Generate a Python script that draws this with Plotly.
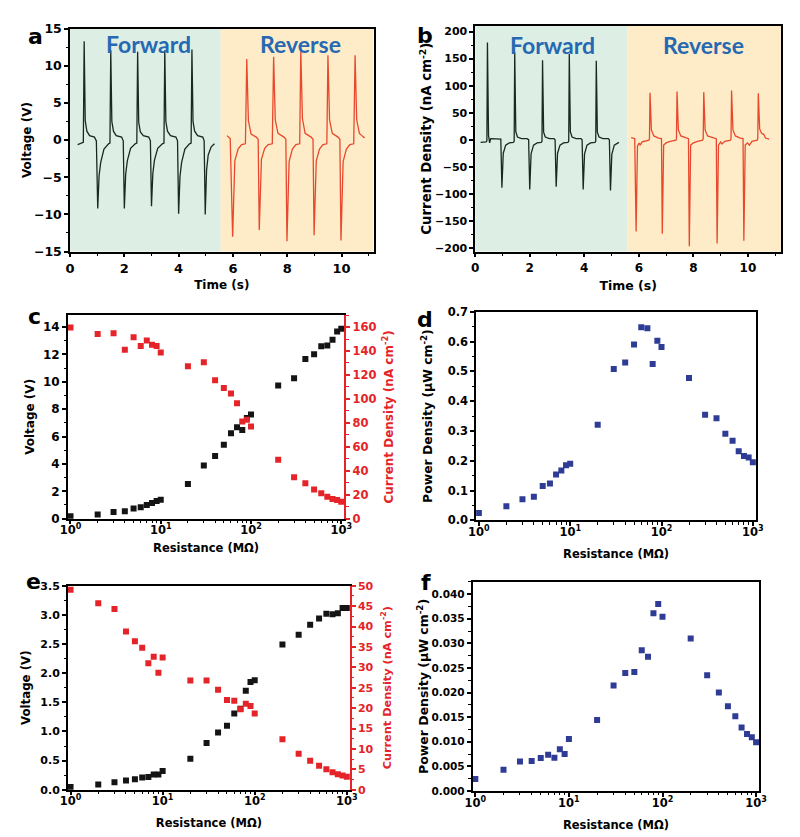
import plotly.graph_objects as go

# ---- panel a: voltage vs time (forward / reverse connection) ----
a_fwd_t = [
    0.28, 0.45, 0.49,
    0.52, 0.56, 0.62, 0.72, 0.90, 0.97, 1.02, 1.07, 1.13, 1.25, 1.42, 1.47,
    1.50, 1.54, 1.60, 1.70, 1.90, 1.96, 2.00, 2.05, 2.11, 2.23, 2.40, 2.46,
    2.49, 2.53, 2.59, 2.70, 2.90, 2.96, 3.00, 3.05, 3.11, 3.23, 3.40, 3.46,
    3.49, 3.53, 3.59, 3.70, 3.90, 3.96, 4.00, 4.05, 4.11, 4.23, 4.40, 4.46,
    4.49, 4.53, 4.59, 4.70, 4.89, 4.94, 4.98, 5.03, 5.09, 5.20, 5.32]
a_fwd_v = [
    -0.6, -0.4, -0.3,
    13.3, 2.6, 1.2, 0.6, 0.4, -0.1, -9.2, -4.8, -3.0, -1.2, -0.5, -0.4,
    12.1, 2.5, 1.2, 0.6, 0.4, -0.1, -9.2, -4.6, -2.8, -1.1, -0.5, -0.4,
    11.9, 2.4, 1.1, 0.6, 0.4, -0.1, -8.9, -4.5, -2.7, -1.1, -0.5, -0.4,
    12.1, 2.5, 1.2, 0.6, 0.4, -0.1, -9.9, -4.9, -3.0, -1.2, -0.5, -0.4,
    12.2, 2.5, 1.2, 0.6, 0.4, -0.1, -10.0, -4.0, -2.0, -0.9, -0.5]
a_rev_t = [
    5.78, 5.90,
    5.99, 6.07, 6.19, 6.32, 6.46, 6.51, 6.57, 6.67, 6.86, 6.93,
    6.97, 7.05, 7.17, 7.30, 7.45, 7.50, 7.56, 7.66, 7.88, 7.95,
    7.99, 8.07, 8.19, 8.32, 8.46, 8.50, 8.56, 8.66, 8.88, 8.95,
    8.99, 9.07, 9.19, 9.32, 9.46, 9.50, 9.56, 9.66, 9.87, 9.94,
    9.98, 10.06, 10.18, 10.31, 10.45, 10.50, 10.56, 10.66, 10.78, 10.85]
a_rev_v = [
    0.6, 0.2,
    -13.0, -2.8, -1.2, -0.6, -0.5, 10.9, 2.6, 0.8, 0.4, 0.1,
    -12.1, -2.6, -1.1, -0.6, -0.5, 11.2, 2.7, 0.9, 0.4, 0.1,
    -13.6, -2.9, -1.2, -0.6, -0.5, 12.1, 2.9, 0.9, 0.4, 0.1,
    -12.8, -2.8, -1.2, -0.6, -0.5, 11.4, 2.7, 0.9, 0.4, 0.1,
    -13.5, -2.9, -1.2, -0.6, -0.5, 11.4, 2.7, 0.9, 0.5, 0.3]

# ---- panel b: current density vs time ----
b_fwd_t = [
    0.20, 0.40, 0.43,
    0.45, 0.49, 0.53, 0.57, 0.63, 0.80, 0.94, 0.98, 1.03, 1.12, 1.25, 1.40, 1.43,
    1.45, 1.49, 1.55, 1.70, 1.90, 1.96, 2.00, 2.05, 2.14, 2.27, 2.42, 2.45,
    2.47, 2.51, 2.57, 2.72, 2.89, 2.93, 2.97, 3.02, 3.11, 3.24, 3.40, 3.43,
    3.45, 3.49, 3.55, 3.70, 3.88, 3.92, 3.96, 4.01, 4.10, 4.23, 4.39, 4.42,
    4.44, 4.48, 4.54, 4.69, 4.88, 4.92, 4.96, 5.01, 5.10, 5.27]
b_fwd_j = [
    -5, -4, -2,
    180, 8, -6, 2, 2, 2, 1, -89, -25, -10, -6, -5, -3,
    162, 15, 5, 2, 2, 0, -92, -26, -10, -6, -5, -3,
    147, 14, 5, 2, 2, 0, -87, -25, -10, -6, -5, -3,
    159, 15, 5, 2, 2, 0, -92, -26, -10, -6, -5, -3,
    146, 14, 5, 2, 2, 0, -94, -27, -10, -5]
b_rev_t = [
    5.72, 5.85,
    5.90, 5.95, 6.01, 6.05, 6.12, 6.25, 6.37, 6.39, 6.41, 6.46, 6.55, 6.72, 6.83,
    6.86, 6.91, 7.00, 7.15, 7.36, 7.38, 7.40, 7.45, 7.54, 7.72, 7.82,
    7.85, 7.90, 8.00, 8.15, 8.34, 8.36, 8.38, 8.43, 8.52, 8.72, 8.84,
    8.87, 8.92, 9.00, 9.05, 9.15, 9.36, 9.38, 9.40, 9.45, 9.54, 9.72, 9.82,
    9.85, 9.90, 9.98, 10.05, 10.15, 10.34, 10.36, 10.38, 10.43, 10.50, 10.58, 10.64, 10.78]
b_rev_j = [
    4, 2,
    -170, -12, -6, -10, -4, -2, -1, 2, 87, 18, 7, 3, 2,
    -174, -10, -6, -3, -1, 2, 89, 18, 7, 3, 2,
    -197, -10, -6, -3, -1, 2, 88, 18, 7, 3, 2,
    -192, -10, -4, -8, -3, -1, 2, 91, 18, 7, 3, 2,
    -187, -10, -6, -10, -3, -1, 2, 86, 20, 12, 10, 3, 1]

# ---- panels c-f: load resistance sweep ----
resistance = [1, 2, 3, 4, 5, 6, 7, 8, 9, 10,
              20, 30, 40, 50, 60, 70, 80, 90, 100,
              200, 300, 400, 500, 600, 700, 800, 900, 1000]
c_voltage = [0.17, 0.31, 0.48, 0.55, 0.74, 0.84, 1.00, 1.15, 1.29, 1.39,
             2.54, 3.88, 4.59, 5.41, 6.25, 6.68, 6.49, 7.35, 7.61,
             9.74, 10.27, 11.68, 12.01, 12.61, 12.66, 13.07, 13.69, 13.88]
c_current = [159.7, 154.3, 154.8, 141.1, 151.5, 144.1, 148.8, 145.2, 144.1, 138.7,
             127.2, 130.7, 115.7, 109.1, 104.5, 96.3, 81.2, 82.6, 76.9,
             49.2, 34.7, 29.5, 24.3, 21.3, 18.3, 16.4, 15.6, 14.2]
d_power = [0.025, 0.047, 0.071, 0.079, 0.115, 0.124, 0.154, 0.167, 0.185, 0.190,
           0.321, 0.508, 0.530, 0.590, 0.648, 0.645, 0.525, 0.603, 0.582,
           0.478, 0.354, 0.343, 0.291, 0.267, 0.232, 0.216, 0.211, 0.195]
e_voltage = [0.045, 0.09, 0.13, 0.157, 0.18, 0.21, 0.22, 0.26, 0.26, 0.32,
             0.53, 0.80, 0.98, 1.10, 1.31, 1.39, 1.70, 1.85, 1.88,
             2.49, 2.66, 2.83, 2.94, 3.02, 3.01, 3.03, 3.12, 3.12]
e_current = [49.0, 45.7, 44.3, 38.8, 36.4, 34.8, 31.0, 32.6, 28.7, 32.4,
             26.8, 26.8, 24.5, 22.0, 21.8, 19.7, 21.1, 20.5, 18.7,
             12.4, 8.8, 7.1, 5.9, 5.0, 4.3, 3.8, 3.5, 3.2]
f_power = [0.00246, 0.00432, 0.00598, 0.00611, 0.00671, 0.00738, 0.00678, 0.0085, 0.0075, 0.01057,
           0.01442, 0.02146, 0.0240, 0.0242, 0.0286, 0.0273, 0.0361, 0.0380, 0.0354,
           0.0310, 0.0235, 0.0200, 0.0172, 0.0152, 0.0129, 0.0116, 0.0109, 0.0099]

# tick labels for the log axes
log_ticks = [1, 10, 100, 1000]
log_ticktext = ['10<sup>0</sup>', '10<sup>1</sup>', '10<sup>2</sup>', '10<sup>3</sup>']
log_minor = [2, 3, 4, 5, 6, 7, 8, 9, 20, 30, 40, 50, 60, 70, 80, 90,
             200, 300, 400, 500, 600, 700, 800, 900]

FONT = 'DejaVu Sans'
RED = 'rgb(228,36,40)'
BLACK = 'rgb(20,20,20)'
BLUE = 'rgb(46,60,150)'
W, H = 800, 837

fig = go.Figure()

# time traces
fig.add_trace(go.Scatter(x=a_fwd_t, y=a_fwd_v, mode='lines', line=dict(color='rgb(25,40,32)', width=1.3), xaxis='x', yaxis='y'))
fig.add_trace(go.Scatter(x=a_rev_t, y=a_rev_v, mode='lines', line=dict(color='rgb(232,72,45)', width=1.3), xaxis='x', yaxis='y'))
fig.add_trace(go.Scatter(x=b_fwd_t, y=b_fwd_j, mode='lines', line=dict(color='rgb(25,40,32)', width=1.3), xaxis='x2', yaxis='y2'))
fig.add_trace(go.Scatter(x=b_rev_t, y=b_rev_j, mode='lines', line=dict(color='rgb(232,72,45)', width=1.3), xaxis='x2', yaxis='y2'))

# resistance sweeps
sq = dict(symbol='square', size=6)
fig.add_trace(go.Scatter(x=resistance, y=c_voltage, mode='markers', marker=dict(color=BLACK, **sq), xaxis='x3', yaxis='y3'))
fig.add_trace(go.Scatter(x=resistance, y=c_current, mode='markers', marker=dict(color=RED, **sq), xaxis='x3', yaxis='y4'))
fig.add_trace(go.Scatter(x=resistance, y=d_power, mode='markers', marker=dict(color=BLUE, **sq), xaxis='x4', yaxis='y5'))
fig.add_trace(go.Scatter(x=resistance, y=e_voltage, mode='markers', marker=dict(color=BLACK, **sq), xaxis='x5', yaxis='y6'))
fig.add_trace(go.Scatter(x=resistance, y=e_current, mode='markers', marker=dict(color=RED, **sq), xaxis='x5', yaxis='y7'))
fig.add_trace(go.Scatter(x=resistance, y=f_power, mode='markers', marker=dict(color=BLUE, **sq), xaxis='x6', yaxis='y8'))


def xdom(left, right):
    return [left / W, right / W]


def ydom(top, bottom):
    return [1 - bottom / H, 1 - top / H]


def axis(color='black', fs=12, **kw):
    d = dict(showline=True, linecolor=color, linewidth=1.5, ticks='outside', ticklen=4,
             tickwidth=1.5, tickcolor=color, showgrid=False, zeroline=False,
             tickfont=dict(family=FONT, size=fs, color=color, weight='bold'))
    d.update(kw)
    return d


def title(text, size=12, color='black', standoff=6):
    return dict(text=text, font=dict(family=FONT, size=size, color=color, weight='bold'), standoff=standoff)


def minor(step, color='black'):
    return dict(ticks='outside', ticklen=2.5, tickwidth=1, tickcolor=color, dtick=step)


def log_x(domain, anchor, standoff, fs=11.5):
    return axis(type='log', domain=domain, anchor=anchor, mirror=True, fs=fs,
                range=[-0.03, 3.035], tickmode='array', tickvals=log_ticks, ticktext=log_ticktext,
                ticklabelstandoff=-4,
                minor=dict(ticks='outside', ticklen=2.5, tickwidth=1, tickcolor='black', tickvals=log_minor),
                title=title('Resistance (M\u03a9)', size=11.5, standoff=standoff))


cur_label = 'Current Density (nA cm<sup>-2</sup>)'
pow_label = 'Power Density (\u03bcW cm<sup>-2</sup>)'

fig.update_layout(
    width=W, height=H, showlegend=False,
    paper_bgcolor='white', plot_bgcolor='white',
    margin=dict(l=0, r=0, t=0, b=0),
    # a
    xaxis=axis(fs=13, domain=xdom(63.3, 373), anchor='y', mirror=True, range=[0, 11.18],
               dtick=2, minor=minor(1), title=title('Time (s)', 12, standoff=6)),
    yaxis=axis(fs=12.5, domain=ydom(21, 248), anchor='x', mirror=True, range=[-15, 15],
               dtick=5, minor=minor(2.5), title=title('Voltage (V)', 12, standoff=0)),
    # b
    xaxis2=axis(fs=12, domain=xdom(476.7, 789), anchor='y2', mirror=True, range=[0, 11.22],
                dtick=2, minor=minor(1), title=title('Time (s)', 12.5, standoff=8)),
    yaxis2=axis(fs=11, domain=ydom(18, 248), anchor='x2', mirror=True, range=[-207, 211],
                dtick=50, minor=minor(25), title=title(cur_label, 13.3, standoff=0)),
    # c
    xaxis3=log_x(xdom(61, 343.3), 'y3', 8),
    yaxis3=axis(fs=12, domain=ydom(312.7, 520), anchor='x3', range=[0, 14.88],
                dtick=2, minor=minor(1), title=title('Voltage (V)', 12, standoff=6)),
    yaxis4=axis(color=RED, fs=11.5, overlaying='y3', side='right', anchor='x3', range=[0, 170],
                dtick=20, minor=minor(10, RED), title=title(cur_label, 12, RED, 9)),
    # d
    xaxis4=log_x(xdom(477.7, 763.3), 'y5', 12),
    yaxis5=axis(fs=11.5, domain=ydom(309.3, 521.7), anchor='x4', mirror=True, range=[0, 0.7],
                dtick=0.1, tickformat='.1f', minor=minor(0.05),
                title=title(pow_label, 12.4, standoff=12)),
    # e
    xaxis5=log_x(xdom(61, 349), 'y6', 12),
    yaxis6=axis(fs=11, domain=ydom(588.3, 796), anchor='x5', range=[0, 3.5],
                dtick=0.5, tickformat='.1f', minor=minor(0.25), title=title('Voltage (V)', 11.8, standoff=7)),
    yaxis7=axis(color=RED, fs=11, overlaying='y6', side='right', anchor='x5', range=[0, 50],
                dtick=5, minor=minor(2.5, RED), title=title(cur_label, 11.3, RED, 10)),
    # f
    xaxis6=log_x(xdom(474, 766.7), 'y8', 12),
    yaxis8=axis(fs=10.5, domain=ydom(584.3, 797.3), anchor='x6', mirror=True, range=[0, 0.0425],
                dtick=0.005, tickformat='.3f', minor=minor(0.0025),
                title=title(pow_label, 12.5, standoff=0)),
)

# forward / reverse shading
GREEN_BG = 'rgb(221,238,228)'
YELLOW_BG = 'rgb(253,236,199)'
for xr, yr, split, xmax in [('x', 'y', 5.55, 11.18), ('x2', 'y2', 5.57, 11.22)]:
    fig.add_shape(type='rect', xref=xr, yref=yr + ' domain', x0=0, x1=split, y0=0, y1=1,
                  fillcolor=GREEN_BG, line_width=0, layer='below')
    fig.add_shape(type='rect', xref=xr, yref=yr + ' domain', x0=split, x1=xmax, y0=0, y1=1,
                  fillcolor=YELLOW_BG, line_width=0, layer='below')

LABEL_FONT = dict(family='Lato', size=23, color='rgb(38,104,178)', weight='bold')
fig.add_annotation(x=2.9, y=12.9, xref='x', yref='y', text='Forward', showarrow=False, font=LABEL_FONT)
fig.add_annotation(x=8.5, y=12.9, xref='x', yref='y', text='Reverse', showarrow=False, font=LABEL_FONT)
fig.add_annotation(x=2.84, y=176, xref='x2', yref='y2', text='Forward', showarrow=False, font=LABEL_FONT)
fig.add_annotation(x=8.36, y=176, xref='x2', yref='y2', text='Reverse', showarrow=False, font=LABEL_FONT)

# panel letters
for letter, px, py in [('a', 27.7, 29), ('b', 426, 28), ('c', 27, 314),
                       ('d', 426, 316.7), ('e', 26, 584), ('f', 427, 585)]:
    fig.add_annotation(x=px / W, y=1 - py / H, xref='paper', yref='paper', text=letter,
                       showarrow=False, xanchor='center', yanchor='middle',
                       font=dict(family=FONT, size=22, color='black', weight='bold'))

# the page body has a default 8px margin; drop it so the figure fills the window
fig.write_html('out.html', config={'displayModeBar': False},
               post_script="document.body.style.margin='0px';")
